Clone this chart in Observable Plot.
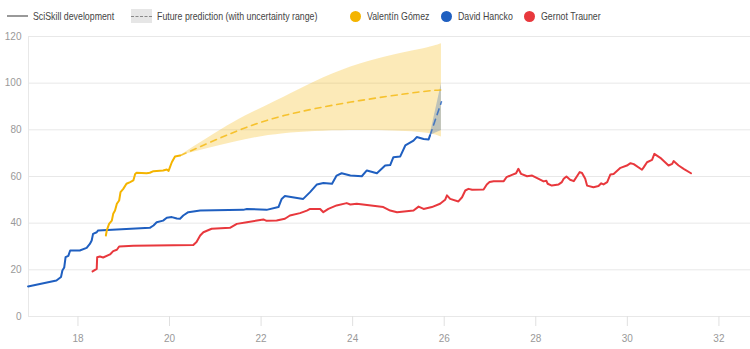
<!DOCTYPE html>
<html><head><meta charset="utf-8">
<script src="https://cdn.jsdelivr.net/npm/d3@7"></script>
<script src="https://cdn.jsdelivr.net/npm/@observablehq/plot@0.6"></script>
<style>
body{margin:0;background:#fff;font-family:"Liberation Sans",Arial,sans-serif;}
#legend{position:relative;width:750px;height:28px;font-size:11px;color:#444;}
.item{position:absolute;top:9px;height:14px;display:flex;align-items:center;white-space:nowrap;}
.item span{display:inline-block;transform:scaleX(0.8);transform-origin:left center;}
.ln{width:21px;height:2px;background:#999;margin-right:5px;}
.sw{width:21px;height:14px;background:#e6e6e6;margin-right:5px;display:flex;align-items:center;}
.sw div{width:21px;height:0;border-top:1.5px dashed #888;}
.dot{width:11px;height:11px;border-radius:50%;margin-right:6px;}
</style>
</head><body>
<div id="legend"></div>
<div id="chart"></div>
<script>
// ---- data ----
const players = ["Valentín Gómez", "David Hancko", "Gernot Trauner"];
const colors = ["#f4b400", "#1f5fc0", "#e8383d"];
const legendLabels = ["SciSkill development", "Future prediction (with uncertainty range)"];

const gomezAge = [18.61,18.63,18.68,18.74,18.77,18.81,18.85,18.90,18.93,18.99,19.06,19.14,19.21,19.25,19.28,19.50,19.57,19.65,19.86,19.94,19.98,20.05,20.12,20.23];
const gomezVal = [34.7,36.9,39.7,41.1,44.0,45.4,48.3,49.7,53.3,54.7,56.9,57.6,58.3,61.1,61.6,61.4,61.6,62.3,62.6,63.0,62.4,66.1,68.6,69.0];

const hanckoAge = [16.91,17.53,17.63,17.66,17.70,17.73,17.79,17.83,18.04,18.19,18.26,18.30,18.33,18.41,18.44,19.57,19.65,19.72,19.86,19.94,20.05,20.16,20.23,20.30,20.41,20.67,21.61,21.69,22.12,22.38,22.45,22.52,22.92,23.07,23.22,23.36,23.55,23.65,23.76,23.95,24.20,24.31,24.53,24.71,24.82,24.89,25.04,25.15,25.33,25.40,25.55,25.66,25.69];
const hanckoVal = [12.9,15.4,16.9,19.7,21.0,25.4,26.0,28.3,28.3,29.4,31.1,32.6,35.4,36.1,36.9,38.0,39.0,40.4,41.1,42.3,42.6,42.0,41.9,43.3,44.7,45.4,45.7,46.1,45.7,46.9,50.4,51.6,50.4,53.3,56.6,57.2,56.9,60.4,61.4,60.4,60.1,62.6,61.4,64.7,64.9,68.3,68.6,73.3,75.4,76.9,76.1,75.9,77.6];

const traunerAge = [18.32,18.41,18.42,18.48,18.55,18.70,18.77,18.85,18.90,19.21,20.52,20.59,20.67,20.74,20.92,21.32,21.47,21.69,21.91,22.05,22.12,22.34,22.52,22.63,22.85,23.00,23.07,23.29,23.36,23.47,23.65,23.87,23.95,24.09,24.67,24.82,24.97,25.33,25.44,25.55,25.73,25.91,26.02,26.06,26.13,26.31,26.39,26.46,26.53,26.61,26.86,26.93,26.99,27.08,27.30,27.36,27.48,27.57,27.62,27.68,27.81,27.92,28.03,28.17,28.23,28.26,28.35,28.50,28.57,28.61,28.67,28.75,28.83,28.90,28.96,29.01,29.08,29.12,29.26,29.37,29.43,29.48,29.56,29.63,29.70,29.85,29.99,30.07,30.14,30.32,30.36,30.43,30.54,30.59,30.72,30.90,30.98,31.01,31.12,31.23,31.39];
const traunerVal = [19.3,20.4,25.4,25.7,25.3,26.6,28.0,28.6,30.0,30.3,30.6,31.9,34.7,36.1,37.6,38.0,39.7,40.4,41.1,41.6,41.0,41.1,41.9,43.3,44.3,45.4,46.1,46.1,44.7,46.1,47.6,48.6,48.0,48.3,46.9,45.4,44.7,45.4,47.1,46.1,46.9,48.3,50.0,51.9,50.4,49.3,51.1,54.0,54.7,54.3,54.4,56.6,57.6,58.0,58.0,59.7,60.7,61.4,63.3,61.1,60.1,60.4,59.3,57.9,58.2,56.9,56.1,56.6,57.6,59.0,60.0,58.6,58.0,60.1,61.9,61.5,59.0,56.1,55.4,55.9,57.1,56.6,57.6,60.9,61.1,63.7,64.7,65.7,65.3,62.9,64.0,66.1,67.1,69.7,68.0,64.7,65.4,66.6,64.7,63.3,61.4];

const gomezPredAge  = [20.24, 21.41, 22.50, 23.96, 25.41, 25.94];
const gomezPredMean = [69.0, 79.0, 86.1, 91.9, 96.1, 97.1];
const gomezPredLow  = [69.0, 74.7, 78.3, 79.7, 79.0, 76.9];
const gomezPredHigh = [69.0, 83.3, 94.0, 106.9, 114.2, 116.9];

const hanckoPredAge  = [25.69, 25.94];
const hanckoPredMean = [77.6, 92.0];
const hanckoPredLow  = [77.6, 79.7];
const hanckoPredHigh = [77.6, 99.7];

const xTicks = [18, 20, 22, 24, 26, 28, 30, 32];
const yTicks = [0, 20, 40, 60, 80, 100, 120];

// ---- tables ----
const toRows = (a, v) => a.map((x, i) => ({x, y: v[i]}));
const toPred = (a, m, l, h) => a.map((x, i) => ({x, m: m[i], lo: l[i], hi: h[i]}));
const gomez = toRows(gomezAge, gomezVal);
const hancko = toRows(hanckoAge, hanckoVal);
const trauner = toRows(traunerAge, traunerVal);
const gomezPred = toPred(gomezPredAge, gomezPredMean, gomezPredLow, gomezPredHigh);
const hanckoPred = toPred(hanckoPredAge, hanckoPredMean, hanckoPredLow, hanckoPredHigh);

// ---- legend ----
const lg = document.getElementById("legend");
const items = [
  {left: 7, html: `<div class="ln"></div><span>${legendLabels[0]}</span>`},
  {left: 131, html: `<div class="sw"><div></div></div><span>${legendLabels[1]}</span>`},
  {left: 350, html: `<div class="dot" style="background:${colors[0]}"></div><span>${players[0]}</span>`},
  {left: 441, html: `<div class="dot" style="background:${colors[1]}"></div><span>${players[1]}</span>`},
  {left: 524, html: `<div class="dot" style="background:${colors[2]}"></div><span>${players[2]}</span>`}
];
for (const it of items) {
  const d = document.createElement("div");
  d.className = "item"; d.style.left = it.left + "px"; d.innerHTML = it.html;
  lg.appendChild(d);
}

// ---- chart ----
const font = '"Liberation Sans",Arial,sans-serif';
const chart = Plot.plot({
  width: 750, height: 321,
  marginTop: 8, marginBottom: 33, marginLeft: 28, marginRight: 0,
  style: {fontFamily: font, fontSize: "10px", color: "#999", background: "#fff"},
  x: {domain: [16.92, 32.69], axis: null},
  y: {domain: [0, 120], axis: null},
  marks: [
    Plot.ruleY(yTicks, {stroke: "#e8e8e8"}),
    Plot.ruleX([16.92], {stroke: "#e8e8e8"}),
    Plot.areaY(gomezPred, {x: "x", y1: "lo", y2: "hi", fill: colors[0], fillOpacity: 0.28, curve: "natural"}),
    Plot.areaY(hanckoPred, {x: "x", y1: "lo", y2: "hi", fill: colors[1], fillOpacity: 0.28}),
    Plot.line(gomezPred, {x: "x", y: "m", stroke: colors[0], strokeOpacity: 0.75, strokeWidth: 1.6, strokeDasharray: "6,5", curve: "natural"}),
    Plot.line(hanckoPred, {x: "x", y: "m", stroke: colors[1], strokeOpacity: 0.75, strokeWidth: 1.6, strokeDasharray: "6,5"}),
    Plot.line(trauner, {x: "x", y: "y", stroke: colors[2], strokeWidth: 2}),
    Plot.line(hancko, {x: "x", y: "y", stroke: colors[1], strokeWidth: 2}),
    Plot.line(gomez, {x: "x", y: "y", stroke: colors[0], strokeWidth: 2}),
    Plot.axisX(xTicks, {tickSize: 10, tickPadding: 8, stroke: "#e0e0e0", fill: "#999", label: null}),
    Plot.axisY(yTicks, {tickSize: 0, tickPadding: 7, fill: "#999", label: null})
  ]
});
document.getElementById("chart").appendChild(chart);
</script>
</body></html>
